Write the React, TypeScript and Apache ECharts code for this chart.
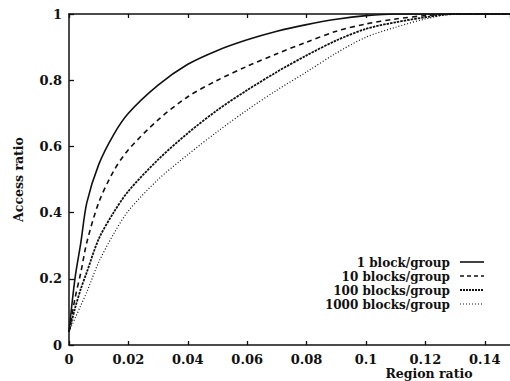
import React, { useEffect, useRef } from "react";
import * as echarts from "echarts";

const regionRatio = [0, 0.002, 0.004, 0.006, 0.01, 0.015, 0.02, 0.03, 0.04, 0.05, 0.06, 0.07, 0.08, 0.09, 0.1, 0.11, 0.12, 0.13, 0.14, 0.1485];
const block1 = [0.04, 0.2, 0.31, 0.43, 0.545, 0.635, 0.7, 0.785, 0.848, 0.89, 0.922, 0.948, 0.968, 0.984, 0.995, 1, 1, 1, 1, 1];
const block10 = [0.04, 0.14, 0.22, 0.31, 0.43, 0.525, 0.59, 0.68, 0.75, 0.8, 0.842, 0.88, 0.915, 0.948, 0.97, 0.985, 0.995, 1, 1, 1];
const block100 = [0.04, 0.11, 0.17, 0.22, 0.32, 0.4, 0.465, 0.56, 0.64, 0.71, 0.77, 0.825, 0.875, 0.92, 0.955, 0.975, 0.99, 1, 1, 1];
const block1000 = [0.04, 0.08, 0.12, 0.16, 0.25, 0.335, 0.405, 0.5, 0.575, 0.645, 0.71, 0.77, 0.825, 0.882, 0.93, 0.96, 0.985, 1, 1, 1];
const seriesNames = ["1 block/group", "10 blocks/group", "100 blocks/group", "1000 blocks/group"];

const INK = "#111";
const FONT = "DejaVu Serif";

export default function App() {
  const ref = useRef<HTMLDivElement>(null);
  useEffect(() => {
    document.body.style.margin = "0";
    const chart = echarts.init(ref.current!, null, { renderer: "svg" });
    const pairs = (ys: number[]) => regionRatio.map((x, i) => [x, ys[i]]);
    const styles: any[] = [
      { type: "solid", width: 1.6, dash: null },
      { type: [5, 4], width: 1.6, dash: [4, 3] },
      { type: [2.5, 1], width: 1.8, dash: [2, 1] },
      { type: [1, 2], width: 1.2, dash: [1, 2] },
    ];
    const all = [block1, block10, block100, block1000];
    const labelStyle = { color: INK, fontFamily: FONT, fontWeight: "bold", fontSize: 13 };
    const legendTop = 263;
    const legendStep = 14;
    const legendGraphics: any[] = [];
    seriesNames.forEach((name, i) => {
      const y = legendTop + i * legendStep;
      legendGraphics.push({
        type: "text",
        x: 450,
        y,
        style: { text: name, fill: INK, font: `bold 12px "${FONT}"`, align: "right", verticalAlign: "middle" },
      });
      legendGraphics.push({
        type: "line",
        shape: { x1: 460, y1: y - 1, x2: 484, y2: y - 1 },
        style: { stroke: INK, lineWidth: styles[i].width, lineDash: styles[i].dash || undefined },
      });
    });
    chart.setOption({
      animation: false,
      backgroundColor: "#fff",
      grid: { left: 69, top: 14, right: 0, bottom: 36 },
      xAxis: [
        {
          type: "value",
          min: 0,
          max: 0.1485,
          interval: 0.02,
          axisLine: { lineStyle: { color: INK, width: 1.5 } },
          axisTick: { inside: true, length: 4, lineStyle: { color: INK, width: 1.3 } },
          axisLabel: { ...labelStyle, margin: 8, showMaxLabel: false },
          splitLine: { show: false },
        },
        {
          type: "value",
          position: "top",
          min: 0,
          max: 0.1485,
          interval: 0.02,
          axisLine: { show: true, lineStyle: { color: INK, width: 1.5 } },
          axisTick: { show: true, inside: true, length: 4, lineStyle: { color: INK, width: 1.3 } },
          axisLabel: { show: false },
          splitLine: { show: false },
        },
      ],
      yAxis: {
        type: "value",
        min: 0,
        max: 1,
        interval: 0.2,
        name: "Access ratio",
        nameLocation: "middle",
        nameGap: 44,
        nameTextStyle: { ...labelStyle, fontSize: 12.5 },
        axisLine: { show: true, lineStyle: { color: INK, width: 1.5 } },
        axisTick: { show: true, inside: true, length: 5, lineStyle: { color: INK, width: 1.3 } },
        axisLabel: { ...labelStyle, margin: 7 },
        splitLine: { show: false },
      },
      graphic: [
        {
          type: "text",
          x: 429,
          y: 373,
          style: { text: "Region ratio", fill: INK, font: `bold 12.5px "${FONT}"`, align: "center", verticalAlign: "middle" },
        },
        ...legendGraphics,
      ],
      series: all.map((ys, i) => ({
        name: seriesNames[i],
        type: "line",
        data: pairs(ys),
        smooth: 0.3,
        symbol: "none",
        lineStyle: { color: INK, type: styles[i].type, width: styles[i].width },
        itemStyle: { color: INK },
      })),
    });
    return () => chart.dispose();
  }, []);
  return <div ref={ref} style={{ width: 510, height: 381 }} />;
}
